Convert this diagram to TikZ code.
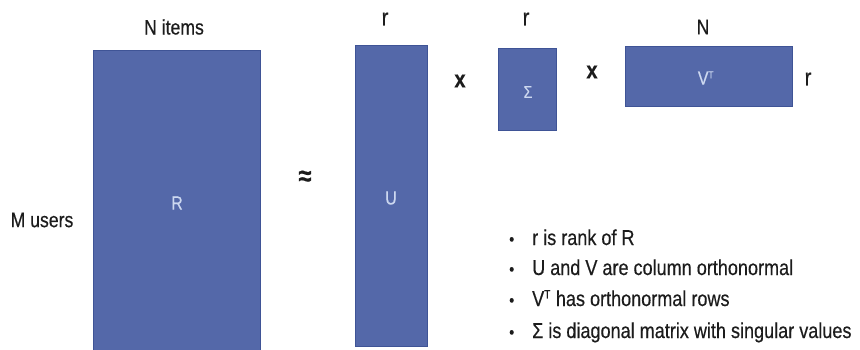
\documentclass[tikz,border=0pt]{standalone}
\usepackage{fontspec}
\setmainfont[FakeStretch=0.84,FakeBold=0.4]{Liberation Sans}
\definecolor{boxfill}{HTML}{5468A9}
\definecolor{boxline}{HTML}{3F5496}
\definecolor{boxtext}{HTML}{CDD8F0}
\definecolor{ink}{HTML}{1C1C1C}
\begin{document}
\begin{tikzpicture}[x=1pt,y=-1pt,
  mat/.style={draw=boxline,line width=0.8pt,fill=boxfill,inner sep=0pt},
  mtxt/.style={text=boxtext,inner sep=0pt,font=\fontsize{19}{21}\selectfont},
  lbl/.style={inner sep=0pt,text=ink,font=\fontsize{21}{24}\selectfont},
  rlbl/.style={inner sep=0pt,text=ink,font=\fontsize{24}{26}\selectfont},
  opr/.style={inner sep=0pt,text=ink,font=\bfseries\fontsize{24}{26}\selectfont},
  bul/.style={inner sep=0pt,anchor=base west,text=ink,font=\fontsize{21.5}{24}\selectfont},
  dot/.style={inner sep=0pt,anchor=base west,text=ink,font=\fontsize{17}{20}\selectfont}]
\useasboundingbox (0,0) rectangle (860,349);
\fill[white] (0,0) rectangle (860,349);
% matrices
\node[mat,minimum width=167pt,minimum height=301pt] (R) at (176.5,201) {};
\node[mtxt] (Rl) at (177,203) {R};
\node[mat,minimum width=72pt,minimum height=301pt] (U) at (391,195.5) {};
\node[mtxt] (Ul) at (391,198) {U};
\node[mat,minimum width=58pt,minimum height=82pt] (S) at (527,89) {};
\node[mtxt,font=\fontsize{17}{19}\selectfont] (Sl) at (528,92) {Σ};
\node[mat,minimum width=167pt,minimum height=60pt] (V) at (708.5,76) {};
\node[mtxt] (Vl) at (706,78) {V\textsuperscript{\fontsize{10}{11}\selectfont T}};
% dimension labels
\node[lbl] (nitems) at (174,27) {N items};
\node[rlbl] (rU) at (385,19) {r};
\node[rlbl] (rS) at (526,19) {r};
\node[lbl] (nV) at (703,27) {N};
\node[rlbl] (rV) at (808,79) {r};
\node[lbl] (musers) at (42,220) {M users};
% operators
\node[opr,font=\bfseries\fontsize{28}{30}\selectfont] (approx) at (305,178) {≈};
\node[opr] (x1) at (460,81) {x};
\node[opr] (x2) at (592,72) {x};
% bullets
\node[dot] (d1) at (509,245) {•};
\node[bul] (t1) at (532,245) {r is rank of R};
\node[dot] (d2) at (509,275) {•};
\node[bul] (t2) at (532,275) {U and V are column orthonormal};
\node[dot] (d3) at (509,306) {•};
\node[bul] (t3) at (532,306) {V\textsuperscript{\fontsize{12}{14}\selectfont T} has orthonormal rows};
\node[dot] (d4) at (509,338) {•};
\node[bul] (t4) at (532,338) {Σ is diagonal matrix with singular values};
\end{tikzpicture}
\end{document}
